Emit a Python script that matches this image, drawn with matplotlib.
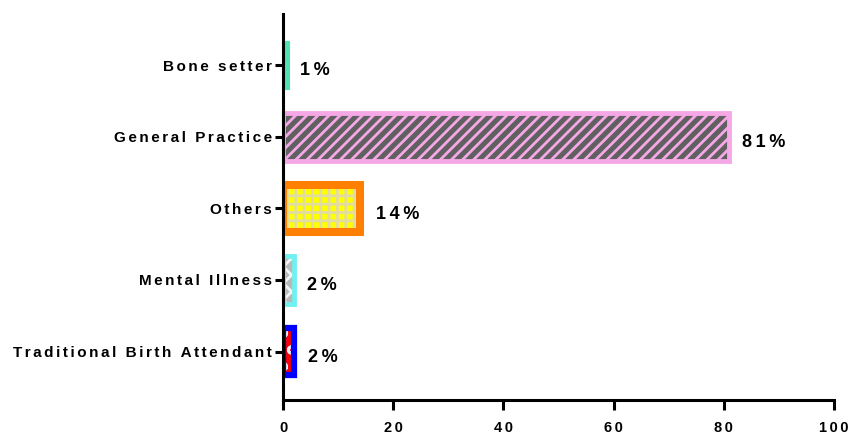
import matplotlib
matplotlib.use("Agg")
import matplotlib.pyplot as plt

plt.rcParams['font.family'] = ['Liberation Sans', 'DejaVu Sans']
plt.rcParams['hatch.linewidth'] = 2.0

categories = ["Traditional Birth Attendant", "Mental Illness", "Others",
              "General Practice", "Bone setter"]
values = [2, 2, 14, 81, 1]
value_labels = ["2%", "2%", "14%", "81%", "1%"]
x_ticks = [0, 20, 40, 60, 80, 100]

face_colors = ["#FF0000", "#B8B8B8", "#FFFF00", "#606060", "#50E3B0"]
hatch_colors = ["#F0F0F0", "#F4F4F4", "#E2DCA0", "#F6A8E6", "#909090"]
hatches = ["o", "xx", "++", "///", "|"]
edge_colors = ["#0000FF", "#70F0F0", "#FF8000", "#F6A8E6", "#50E3B0"]
edge_widths = [4.5, 3.5, 5.8, 3.5, 1.5]

# letter spacing: two hair spaces between characters
SP = "\u200a\u200a"


def spaced(s):
    return SP.join(s)


fig = plt.figure(figsize=(8.5, 4.34), dpi=100)
ax = fig.add_axes([0.333, 0.078, 0.648, 0.89])

pos = list(range(len(categories)))
h = 0.66
for p, v, fc, hc, ht, ec, lw in zip(pos, values, face_colors, hatch_colors,
                                    hatches, edge_colors, edge_widths):
    ax.barh(p, v, height=h, color=fc, edgecolor=hc, hatch=ht, linewidth=0,
            zorder=2)
    ax.barh(p, v, height=h, color="none", edgecolor=ec, linewidth=lw,
            zorder=3)

for p, v, lab, lw in zip(pos, values, value_labels, edge_widths):
    ax.annotate("\u2009".join(lab), xy=(v, p), xytext=(lw * 0.7 + 7, -4),
                textcoords="offset points", ha="left", va="center",
                fontsize=13, fontweight="bold", color="#000000")

ax.set_xlim(0, 100)
ax.set_ylim(-0.68, 4.72)
ax.set_xticks(x_ticks)
ax.set_xticklabels([spaced(str(t)) for t in x_ticks], fontsize=10.5,
                   fontweight="bold", color="#000000")
ax.set_yticks(pos)
ax.set_yticklabels([spaced(c) for c in categories], fontsize=11,
                   fontweight="bold", color="#000000")

for s in ["top", "right"]:
    ax.spines[s].set_visible(False)
for s in ["left", "bottom"]:
    ax.spines[s].set_linewidth(2.2)
    ax.spines[s].set_zorder(4)
ax.tick_params(axis="both", width=2.2, length=6, direction="out")
ax.tick_params(axis="x", length=7, pad=8)
ax.tick_params(axis="y", pad=2)

fig.savefig("out.png", dpi=100)
